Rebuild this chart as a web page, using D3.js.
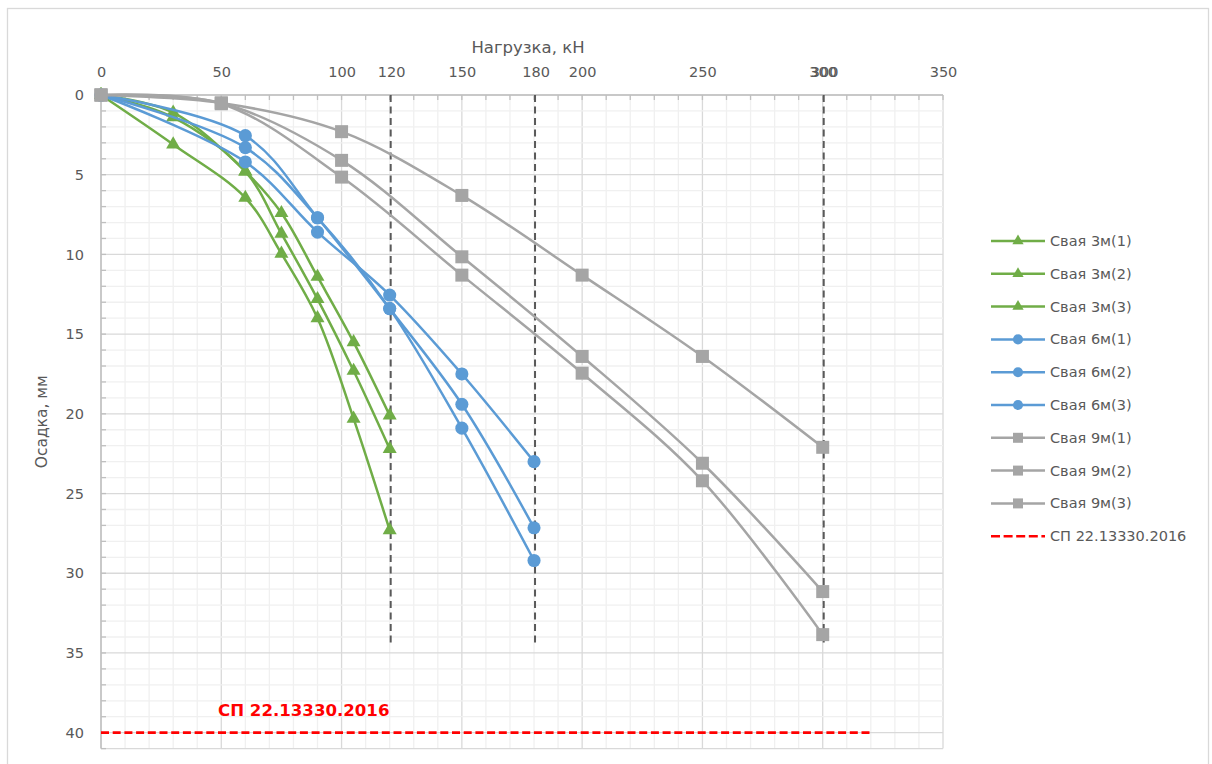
<!DOCTYPE html>
<html><head><meta charset="utf-8">
<script src="https://cdn.jsdelivr.net/npm/d3@7/dist/d3.min.js"></script>
<style>
body{margin:0;background:#fff}
svg{display:block}
text{font-family:"DejaVu Sans",sans-serif;fill:#595959}
</style>
</head><body>
<svg id="chart" width="1212" height="764"></svg>
<script>
// ---------- data ----------
const loads3 = [0, 30, 60, 75, 90, 105, 120];
const pile3_1 = [0, 1.1, 4.8, 7.4, 11.4, 15.5, 20.1];
const pile3_2 = [0, 1.4, 4.8, 8.7, 12.8, 17.3, 22.2];
const pile3_3 = [0, 3.1, 6.45, 9.95, 14.0, 20.3, 27.3];

const loads6 = [0, 60, 90, 120, 150, 180];
const pile6_1 = [0, 4.2, 8.6, 12.55, 17.5, 23.0];
const pile6_2 = [0, 2.55, 7.7, 13.4, 19.4, 27.15];
const pile6_3 = [0, 3.3, 7.7, 13.4, 20.9, 29.2];

const loads9 = [0, 50, 100, 150, 200, 250, 300];
const pile9_1 = [0, 0.5, 2.3, 6.3, 11.3, 16.4, 22.1];
const pile9_2 = [0, 0.5, 4.1, 10.15, 16.4, 23.1, 31.15];
const pile9_3 = [0, 0.55, 5.15, 11.3, 17.45, 24.2, 33.85];

const seriesNames = ["Свая 3м(1)", "Свая 3м(2)", "Свая 3м(3)",
                     "Свая 6м(1)", "Свая 6м(2)", "Свая 6м(3)",
                     "Свая 9м(1)", "Свая 9м(2)", "Свая 9м(3)"];
const normName = "СП 22.13330.2016";
const normSettlement = 40;
const normLoadRange = [0, 320];

const limitLoads = [120, 180, 300];
const limitDepth = 34.6;

const xTicks = [0, 50, 100, 150, 200, 250, 300, 350];
const xExtraTicks = [120, 180, 300];
const yTicks = [0, 5, 10, 15, 20, 25, 30, 35, 40];
const xTitle = "Нагрузка, кН";
const yTitle = "Осадка, мм";

// ---------- styles ----------
const green = "#70ad47", blue = "#5b9bd5", gray = "#a5a5a5";
const groups = [
  {loads: loads3, values: [pile3_1, pile3_2, pile3_3], color: green, symbol: d3.symbolTriangle, size: 85, lsize: 55},
  {loads: loads6, values: [pile6_1, pile6_2, pile6_3], color: blue, symbol: d3.symbolCircle, size: 135, lsize: 80},
  {loads: loads9, values: [pile9_1, pile9_2, pile9_3], color: gray, symbol: d3.symbolSquare, size: 169, lsize: 100}
];

const svg = d3.select("#chart");
const L = 101, R = 943, T = 95, B = 748.6;
const x = d3.scaleLinear().domain([0, 350]).range([L, R]);
const y = d3.scaleLinear().domain([0, 41]).range([T, B]);

// outer border
svg.append("rect").attr("x", 7.5).attr("y", 8.5).attr("width", 1201).attr("height", 770)
  .attr("fill", "#fff").attr("stroke", "#d9d9d9").attr("stroke-width", 1.3);

// grid
const g = svg.append("g");
g.selectAll(".vmin").data(d3.range(0, 351, 10)).join("line")
  .attr("x1", d => x(d)).attr("x2", d => x(d)).attr("y1", T).attr("y2", B)
  .attr("stroke", d => d % 50 === 0 ? "#d9d9d9" : "#f0f0f0").attr("stroke-width", 1.3);
g.selectAll(".hmin").data(d3.range(0, 42, 1)).join("line")
  .attr("y1", d => y(d)).attr("y2", d => y(d)).attr("x1", L).attr("x2", R)
  .attr("stroke", d => d % 5 === 0 || d === 41 ? "#d9d9d9" : "#f0f0f0").attr("stroke-width", 1.3);

// axes lines + minor ticks
svg.append("line").attr("x1", L).attr("x2", R).attr("y1", T).attr("y2", T).attr("stroke", "#bfbfbf").attr("stroke-width", 1.5);
svg.append("line").attr("x1", L).attr("x2", L).attr("y1", T).attr("y2", B).attr("stroke", "#bfbfbf").attr("stroke-width", 1.5);
svg.selectAll(".tx").data(d3.range(0, 351, 10)).join("line")
  .attr("x1", d => x(d)).attr("x2", d => x(d)).attr("y1", T).attr("y2", T + 5)
  .attr("stroke", "#bfbfbf").attr("stroke-width", 1.3);
svg.selectAll(".ty").data(d3.range(0, 42, 1)).join("line")
  .attr("y1", d => y(d)).attr("y2", d => y(d)).attr("x1", L).attr("x2", L + 5)
  .attr("stroke", "#bfbfbf").attr("stroke-width", 1.3);

// tick labels via d3 axes
const axY = T - 15;
const ax = svg.append("g").attr("transform", `translate(0,${axY})`)
  .call(d3.axisTop(x).tickValues(xTicks).tickSize(0).tickFormat(d3.format("d")));
ax.select(".domain").remove();
ax.selectAll("text").attr("font-size", 14.5).attr("fill", "#595959").attr("font-family", '"DejaVu Sans",sans-serif');
const ax2 = svg.append("g").attr("transform", `translate(1.5,${axY})`)
  .call(d3.axisTop(x).tickValues(xExtraTicks).tickSize(0).tickFormat(d3.format("d")));
ax2.select(".domain").remove();
ax2.selectAll("text").attr("font-size", 14.5).attr("fill", "#595959").attr("font-family", '"DejaVu Sans",sans-serif');

const ay = svg.append("g").attr("transform", `translate(${L - 14},0)`)
  .call(d3.axisLeft(y).tickValues(yTicks).tickSize(0).tickFormat(d3.format("d")));
ay.select(".domain").remove();
ay.selectAll("text").attr("font-size", 14.5).attr("fill", "#595959").attr("font-family", '"DejaVu Sans",sans-serif');

svg.append("text").attr("x", (L + R) / 2 + 6).attr("y", 52.5).attr("text-anchor", "middle")
  .attr("font-size", 16.5).text(xTitle);
svg.append("text").attr("transform", `translate(47,${(T + B) / 2}) rotate(-90)`)
  .attr("text-anchor", "middle").attr("font-size", 15.5).text(yTitle);

// limit dashed lines
svg.selectAll(".lim").data(limitLoads).join("line")
  .attr("x1", d => x(d) + 1).attr("x2", d => x(d) + 1).attr("y1", y(0)).attr("y2", y(limitDepth))
  .attr("stroke", "#595959").attr("stroke-width", 2).attr("stroke-dasharray", "7,4.5");

// norm line
svg.append("line").attr("x1", x(normLoadRange[0])).attr("x2", x(normLoadRange[1]))
  .attr("y1", y(normSettlement)).attr("y2", y(normSettlement))
  .attr("stroke", "#ff0000").attr("stroke-width", 2.6).attr("stroke-dasharray", "8,3.7");
svg.append("text").attr("x", 218).attr("y", 716).attr("font-size", 16.6)
  .attr("font-weight", "bold").style("fill", "#ff0000").text(normName);

// series
const line = d3.line().curve(d3.curveCatmullRom.alpha(0.5));
groups.forEach((grp, gi) => {
  grp.values.forEach((vals, si) => {
    const pts = grp.loads.map((l, i) => [x(l), y(vals[i])]);
    svg.append("path").attr("d", line(pts)).attr("fill", "none")
      .attr("stroke", grp.color).attr("stroke-width", 2.5);
    svg.selectAll(null).data(pts).join("path")
      .attr("transform", d => `translate(${d[0]},${d[1]})`)
      .attr("d", d3.symbol().type(grp.symbol).size(grp.size)())
      .attr("fill", grp.color);
  });
});

// legend
const lg = svg.append("g");
const rowY = i => 241 + i * 32.8;
groups.forEach((grp, gi) => {
  grp.values.forEach((vals, si) => {
    const i = gi * 3 + si;
    const yy = rowY(i);
    lg.append("line").attr("x1", 991).attr("x2", 1045).attr("y1", yy).attr("y2", yy)
      .attr("stroke", grp.color).attr("stroke-width", 2.5);
    lg.append("path").attr("transform", `translate(1018,${yy})`)
      .attr("d", d3.symbol().type(grp.symbol).size(grp.lsize)()).attr("fill", grp.color);
    lg.append("text").attr("x", 1050).attr("y", yy + 5).attr("font-size", 14.5).text(seriesNames[i]);
  });
});
const ny = rowY(9);
lg.append("line").attr("x1", 991).attr("x2", 1045).attr("y1", ny).attr("y2", ny)
  .attr("stroke", "#ff0000").attr("stroke-width", 2.6).attr("stroke-dasharray", "9,3.6");
lg.append("text").attr("x", 1050).attr("y", ny + 5).attr("font-size", 14.5).text(normName);
</script>
</body></html>
